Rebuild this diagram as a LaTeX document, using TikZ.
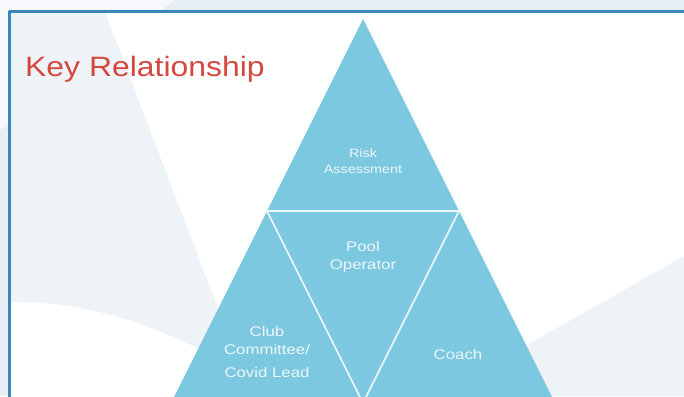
\documentclass[tikz,border=0pt]{standalone}
\usepackage{fontspec}
\setmainfont{Liberation Sans}
\newfontfamily\titlesans[FakeStretch=1.14]{Liberation Sans}
\newfontfamily\widesans[FakeStretch=1.2]{Liberation Sans}
\usepackage{tikz}
\usetikzlibrary{calc}

\definecolor{pagebg}{HTML}{E8EEF6}
\definecolor{swoosh}{HTML}{EEF3F8}
\definecolor{framecol}{HTML}{3B87BB}
\definecolor{pyramid}{HTML}{7CC8E0}
\definecolor{titlered}{HTML}{D6483E}
\definecolor{labeltext}{HTML}{EDF7FA}

\begin{document}
\begin{tikzpicture}[line cap=round,line join=round,x=1pt,y=-1pt,
    lbl/.style={text=labeltext,align=center,inner sep=0pt,font=\widesans\fontsize{14}{18}\selectfont},
    divider/.style={draw=white!85!pyramid,line width=1.6pt}]
    \useasboundingbox (0,0) rectangle (684,396);
    \clip (0,0) rectangle (684,396);
    % page background and slide
    \fill[pagebg] (0,0) rectangle (684,396);
    \fill[white!60!pagebg] (0,0) -- (175,0) -- (0,130) -- cycle;
    \fill[white] (9.5,11.3) rectangle (700,410);
    \fill[swoosh] (10,12) -- (105,12) -- (230,340) -- (205,352) .. controls (140,318) and (70,300) .. (10,302) -- cycle;
    \fill[swoosh] (520,349) -- (684,256) -- (684,396) -- (520,396) -- cycle;
    \draw[framecol,line width=2.5pt,line cap=butt] (9.5,410) -- (9.5,11.3) -- (700,11.3);
    % pyramid
    \coordinate (top) at (363,19);
    \coordinate (left) at (171,403);
    \coordinate (right) at (555,403);
    \coordinate (midL) at ($(top)!0.5!(left)$);
    \coordinate (midR) at ($(top)!0.5!(right)$);
    \coordinate (midB) at ($(left)!0.5!(right)$);
    \fill[pyramid] (top) -- (left) -- (right) -- cycle;
    \draw[divider] (midL) -- (midR) -- (midB) -- cycle;
    % labels
    \node[anchor=base west,text=titlered,inner sep=0pt,font=\titlesans\fontsize{28}{32}\selectfont] (title) at (25,76) {Key Relationship};
    \node[lbl,font=\widesans\fontsize{12}{15.5}\selectfont] (risk) at (363,161) {Risk\\Assessment};
    \node[lbl] (pool) at (363,257) {Pool\\Operator};
    \node[lbl] (club) at (267,352) {Club\\Committee/\\[5pt]Covid Lead};
    \node[lbl] (coach) at (458,354) {Coach};
\end{tikzpicture}
\end{document}
